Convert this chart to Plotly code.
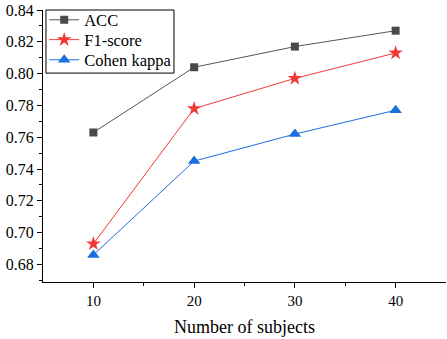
import plotly.graph_objects as go

subjects = [10, 20, 30, 40]
acc = [0.763, 0.804, 0.817, 0.827]
f1 = [0.693, 0.778, 0.797, 0.813]
kappa = [0.686, 0.745, 0.762, 0.777]

fig = go.Figure()
fig.add_trace(go.Scatter(x=subjects, y=acc, name="ACC", mode="lines+markers",
                         line=dict(color="#555555", width=1), legend="legend",
                         marker=dict(symbol="square", size=8, color="#4a4a4a")))
fig.add_trace(go.Scatter(x=subjects, y=f1, name="F1-score", mode="lines+markers",
                         line=dict(color="#f03a3a", width=1), legend="legend2",
                         marker=dict(symbol="star", size=11, color="#f03a3a")))
fig.add_trace(go.Scatter(x=subjects, y=kappa, name="Cohen kappa", mode="lines+markers",
                         line=dict(color="#1a6fe0", width=1), legend="legend3",
                         marker=dict(symbol="triangle-up", size=11, color="#1a6fe0")))

font = "Liberation Serif"
leg = dict(x=0.003, xanchor="left", yanchor="middle", borderwidth=0,
           bgcolor="rgba(0,0,0,0)", font=dict(family=font, size=16.5), itemwidth=30)
fig.update_layout(
    width=447, height=339,
    margin=dict(l=43, r=1, t=10, b=57),
    plot_bgcolor="white", paper_bgcolor="white",
    font=dict(family=font, size=16, color="black"),
    showlegend=True,
    legend=dict(leg, y=0.963),
    legend2=dict(leg, y=0.890),
    legend3=dict(leg, y=0.816),
    shapes=[dict(type="rect", xref="paper", yref="paper", x0=0.0074, x1=0.325,
                 y0=0.768, y1=1.0, line=dict(color="black", width=1),
                 fillcolor="white", layer="above")],
)
fig.update_xaxes(range=[5, 45], tickvals=subjects, ticks="outside", ticklen=5,
                 showline=True, linecolor="black", linewidth=1, showgrid=False,
                 zeroline=False, tickcolor="black",
                 minor=dict(tickvals=[15, 25, 35], ticks="outside", ticklen=3, tickcolor="black"),
                 title=dict(text="Number of subjects", font=dict(family=font, size=18), standoff=12),
                 tickfont=dict(family=font, size=15))
fig.update_yaxes(range=[0.669, 0.84], dtick=0.02, tick0=0.68, ticks="outside", ticklen=5,
                 tickformat=".2f", showline=True, linecolor="black", linewidth=1,
                 showgrid=False, zeroline=False, tickcolor="black",
                 minor=dict(dtick=0.01, ticks="outside", ticklen=3, tickcolor="black"),
                 tickfont=dict(family=font, size=16))

fig.write_html("out.html", config={"displayModeBar": False},
               post_script="document.body.style.margin='0';document.body.style.overflow='hidden';")
